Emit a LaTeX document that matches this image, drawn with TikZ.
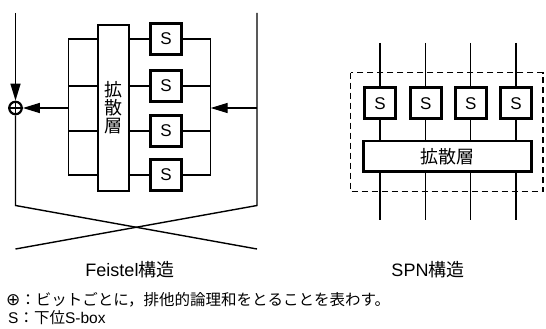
\documentclass[tikz,border=0pt]{standalone}
\usepackage{fontspec}
\setmainfont{Liberation Sans}
\newfontfamily\cjk{Noto Sans CJK JP}
\newfontfamily\dejavu{DejaVu Sans}
\usetikzlibrary{arrows.meta}
\begin{document}
\begin{tikzpicture}[x=1pt,y=-1pt,
  wire/.style={line width=1.4pt},
  boxx/.style={draw,line width=2.8pt,fill=white,inner sep=0pt},
  sbox/.style={boxx,minimum width=31pt,minimum height=31pt,font=\fontsize{17}{17}\selectfont},
  arr/.style={wire,-{Triangle[length=17pt,width=10pt]}},
  lab/.style={font=\fontsize{18}{18}\selectfont,inner sep=0pt},
  leg/.style={font=\fontsize{15.5}{15.5}\selectfont,inner sep=0pt,anchor=west,text height=11pt,text depth=2pt}]
\useasboundingbox (0,0) rectangle (546,329);
% ---------------- Feistel ----------------
\coordinate (lt) at (15.5,13);
\coordinate (lb) at (15.5,205.5);
\coordinate (rt) at (257,13);
\coordinate (rb) at (257,205.5);
\coordinate (lbb) at (15.5,249);
\coordinate (rbb) at (257,249);
\node[circle,draw,line width=2.2pt,minimum size=12.5pt,inner sep=0pt] (x) at (15.5,108) {};
\draw[line width=1.8pt] (x.north) -- (x.south) (x.west) -- (x.east);
\draw[arr] (lt) -- (x.north);
\draw[wire] (x.south) -- (lb) -- (rbb);
\draw[wire] (rt) -- (rb) -- (lbb);
% brackets
\coordinate (bl1) at (68.3,39); \coordinate (bl4) at (68.3,175);
\coordinate (br1) at (210.7,39); \coordinate (br4) at (210.7,175);
\coordinate (blm) at (68.3,108); \coordinate (brm) at (210.7,108);
\draw[wire] (bl1) -- (bl4);
\draw[wire] (br1) -- (br4);
\draw[arr] (blm) -- (x.east);
\coordinate (rm) at (257,108);
\draw[arr] (rm) -- (brm);
\node[boxx,minimum width=31pt,minimum height=166pt] (d) at (113.5,108) {};
\node[lab,align=center,font=\cjk\fontsize{18}{18}\selectfont] at (d.center) {拡\\散\\層};
\foreach \i/\y in {1/39,2/86,3/131,4/175}{
  \node[sbox] (s\i) at (166,\y) {S};
  \coordinate (a\i) at (68.3,\y);
  \coordinate (b\i) at (210.7,\y);
  \draw[wire] (a\i) -- (a\i -| d.west);
  \draw[wire] (d.east |- s\i) -- (s\i.west);
  \draw[wire] (s\i.east) -- (b\i);
}
\node[lab] (fl) at (130,270) {Feistel{\cjk 構造}};
% ---------------- SPN ----------------
\draw[wire,dashed,dash pattern=on 6pt off 4pt] (350.7,72.7) rectangle (543,191.7);
\node[boxx,minimum width=168pt,minimum height=30.5pt] (sd) at (447.5,156.3) {};
\node[lab,font=\cjk\fontsize{18}{18}\selectfont] at (sd.center) {拡散層};
\foreach \i/\x in {1/380,2/425.7,3/470.7,4/516}{
  \node[sbox] (p\i) at (\x,103.3) {S};
  \coordinate (pt\i) at (\x,43);
  \coordinate (pb\i) at (\x,220);
  \draw[wire] (pt\i) -- (p\i.north);
  \draw[wire] (p\i.south) -- (p\i.south |- sd.north);
  \draw[wire] (p\i.south |- sd.south) -- (pb\i);
}
\node[lab] (sl) at (428,270) {SPN{\cjk 構造}};
% ---------------- legend ----------------
\node[leg] (l1) at (6,301) {{\dejavu\fontsize{17}{15}\selectfont ⊕}{\cjk ：ビットごとに，排他的論理和をとることを表わす。}};
\node[leg] (l2) at (8,319) {S{\cjk ：下位}S-box};
\end{tikzpicture}
\end{document}
